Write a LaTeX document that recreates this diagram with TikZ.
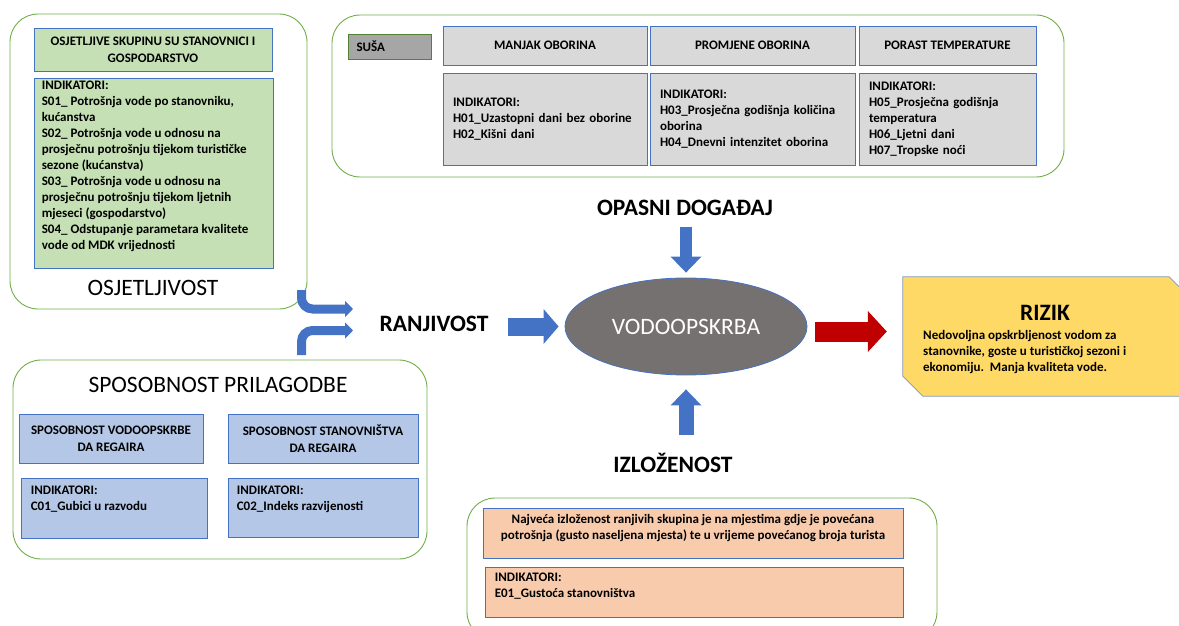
\documentclass[tikz,border=0pt]{standalone}
\usepackage{fontspec}
\setmainfont{Carlito}
\definecolor{grborder}{RGB}{112,173,71}
\definecolor{bxborder}{RGB}{68,114,196}
\definecolor{sushaborder}{RGB}{84,130,53}
\definecolor{arblue}{RGB}{68,114,196}
\definecolor{bxgray}{RGB}{217,217,217}
\definecolor{bxdark}{RGB}{166,166,166}
\definecolor{bxgreen}{RGB}{197,224,180}
\definecolor{bxblue}{RGB}{180,199,231}
\definecolor{bxorange}{RGB}{248,203,173}
\definecolor{bxyellow}{RGB}{255,217,102}
\definecolor{rizborder}{RGB}{132,151,176}
\definecolor{ellgray}{RGB}{118,113,113}
\definecolor{arred}{RGB}{192,0,0}
\usetikzlibrary{arrows.meta,positioning,shapes.geometric}

\tikzset{
  group/.style={draw=grborder, line width=0.9pt, rounded corners=28pt},
  cell/.style={draw=bxborder, line width=0.8pt, inner sep=0pt},
  headtxt/.style={font=\fontsize{13}{17}\selectfont\bfseries, align=center},
  indtxt/.style={font=\fontsize{13}{16}\selectfont\bfseries, align=left, inner sep=0pt},
  bigtitle/.style={font=\fontsize{23.5}{26}\selectfont, inner sep=0pt},
  boldlabel/.style={font=\fontsize{23.5}{26}\selectfont\bfseries, inner sep=0pt},
  blockarrow/.style={arblue, line width=13pt, -{Triangle[width=30pt,length=16pt]}},
  bentarrow/.style={arblue, line width=9pt, rounded corners=11pt, -{Triangle[width=16pt,length=8pt]}}
}

\begin{document}
\begin{tikzpicture}[x=1pt,y=-1pt]
  \useasboundingbox (0,0) rectangle (1179,626);

  %% Osjetljivost
  \node[group, minimum width=297pt, minimum height=295pt] (osjet) at (158.5,161.5) {};
  \node[cell, fill=bxgreen, minimum width=238pt, minimum height=43pt, headtxt] (osjhead) at (153,49.5)
    {OSJETLJIVE SKUPINU SU STANOVNICI I\\GOSPODARSTVO};
  \node[cell, fill=bxgreen, minimum width=239pt, minimum height=190pt] (osjind) at (153.5,173) {};
  \node[indtxt, anchor=north west] (osjtxt) at ([shift={(8pt,-3pt)}]osjind.north west)
    {INDIKATORI:\\S01\_ Potrošnja vode po stanovniku,\\kućanstva\\S02\_ Potrošnja vode u odnosu na\\prosječnu potrošnju tijekom turističke\\sezone (kućanstva)\\S03\_ Potrošnja vode u odnosu na\\prosječnu potrošnju tijekom ljetnih\\mjeseci (gospodarstvo)\\S04\_ Odstupanje parametara kvalitete\\vode od MDK vrijednosti};
  \node[bigtitle] (osjtitle) at (153,288) {OSJETLJIVOST};

  %% Opasni dogadjaj
  \node[group, minimum width=732pt, minimum height=162pt] (hazard) at (698,96) {};
  \node[cell, draw=sushaborder, fill=bxdark, font=\fontsize{13}{15}\selectfont\bfseries, align=left, minimum height=25pt, text width=66pt, inner xsep=8.5pt] (susa) at (389.5,46.5) {SUŠA};
  \node[cell, fill=bxgray, minimum width=204pt, minimum height=39pt, headtxt] (manjhead) at (545,45.5) {MANJAK OBORINA};
  \node[cell, fill=bxgray, minimum width=205pt, minimum height=39pt, headtxt] (promhead) at (752.5,45.5) {PROMJENE OBORINA};
  \node[cell, fill=bxgray, minimum width=177pt, minimum height=39pt, headtxt] (porhead) at (947.5,45.5) {PORAST TEMPERATURE};
  \node[cell, indtxt, fill=bxgray, minimum height=92pt, text width=184pt, inner xsep=10pt] (manjind) at (545,119)
    {INDIKATORI:\\H01\_Uzastopni dani bez oborine\\H02\_Kišni dani};
  \node[cell, indtxt, fill=bxgray, minimum height=92pt, text width=185pt, inner xsep=10pt] (promind) at (752.5,119)
    {INDIKATORI:\\H03\_Prosječna godišnja količina\\oborina\\H04\_Dnevni intenzitet oborina};
  \node[cell, indtxt, fill=bxgray, minimum height=92pt, text width=157pt, inner xsep=10pt] (porind) at (947.5,119)
    {INDIKATORI:\\H05\_Prosječna godišnja\\temperatura\\H06\_Ljetni dani\\H07\_Tropske noći};
  \node[boldlabel] (opasni) at (685,208) {OPASNI DOGAĐAJ};

  %% Vodoopskrba
  \node[ellipse, draw=bxborder, line width=0.8pt, fill=ellgray, minimum width=242pt, minimum height=97pt, text=white, font=\fontsize{23.5}{26}\selectfont] (vodo) at (686,326.5) {VODOOPSKRBA};
  \node[boldlabel] (ranj) at (434,324) {RANJIVOST};
  \node[boldlabel] (izl) at (673,463) {IZLOŽENOST};

  %% Sposobnost prilagodbe
  \node[group, minimum width=414pt, minimum height=199pt] (capac) at (220,459.5) {};
  \node[bigtitle] (captitle) at (218,385) {SPOSOBNOST PRILAGODBE};
  \node[cell, fill=bxblue, minimum width=184pt, minimum height=49pt, headtxt] (caplhead) at (111,439)
    {SPOSOBNOST VODOOPSKRBE\\DA REGAIRA};
  \node[cell, fill=bxblue, minimum width=190pt, minimum height=49pt, headtxt] (caprhead) at (323,439)
    {SPOSOBNOST STANOVNIŠTVA\\DA REGAIRA};
  \node[cell, fill=bxblue, minimum width=186pt, minimum height=60pt] (caplind) at (114,508) {};
  \node[cell, fill=bxblue, minimum width=190pt, minimum height=59pt] (caprind) at (323,507.5) {};
  \node[indtxt, anchor=north west] (capltxt) at ([shift={(10pt,-8pt)}]caplind.north west)
    {INDIKATORI:\\C01\_Gubici u razvodu};
  \node[indtxt, anchor=north west] (caprtxt) at ([shift={(9pt,-8pt)}]caprind.north west)
    {INDIKATORI:\\C02\_Indeks razvijenosti};

  %% Izlozenost
  \node[group, minimum width=470pt, minimum height=142pt] (expos) at (702,569) {};
  \node[cell, fill=bxorange, minimum width=420pt, minimum height=50pt] (exphead) at (693,533) {};
  \node[indtxt, align=center, anchor=north] (exptxt) at ([yshift=-7pt]exphead.north)
    {Najveća izloženost ranjivih skupina je na mjestima gdje je povećana\\potrošnja (gusto naseljena mjesta) te u vrijeme povećanog broja turista};
  \node[cell, fill=bxorange, minimum width=418pt, minimum height=50pt] (expind) at (694,592) {};
  \node[indtxt, anchor=north west] (expitxt) at ([shift={(10pt,-6pt)}]expind.north west)
    {INDIKATORI:\\E01\_Gustoća stanovništva};

  %% Rizik
  \node[minimum width=286pt, minimum height=119pt, inner sep=0pt] (rizik) at (1046,336.5) {};
  \draw[draw=rizborder, line width=0.8pt, fill=bxyellow] (rizik.north west) -- ([xshift=-20pt]rizik.north east)
    -- ([yshift=-20pt]rizik.north east) -- (rizik.south east) -- ([xshift=20pt]rizik.south west)
    -- ([yshift=20pt]rizik.south west) -- cycle;
  \node[font=\fontsize{23.5}{26}\selectfont\bfseries, inner sep=0pt] (riztitle) at (1045,313) {RIZIK};
  \node[indtxt, anchor=north west] (riztxt) at (923,330)
    {Nedovoljna opskrbljenost vodom za\\stanovnike, goste u turističkoj sezoni i\\ekonomiju.\ \ Manja kvaliteta vode.};

  %% Arrows
  \coordinate (hzdbase) at (686,227);
  \coordinate (expbase) at (686,435);
  \coordinate (osjout) at (301.5,290);
  \coordinate (capout) at (301.5,355);
  \coordinate (ranjin1) at (353,309);
  \coordinate (ranjin2) at (353,330.5);
  \draw[blockarrow, line width=12pt] (hzdbase) -- ([yshift=5pt]vodo.north);
  \draw[blockarrow, line width=15pt] (expbase) -- ([yshift=-14pt]vodo.south);
  \draw[blockarrow, line width=18pt, -{Triangle[width=34pt,length=15pt]}, shorten >=6pt] ([xshift=19pt]ranj.east |- vodo.west) -- (vodo.west);
  \draw[blockarrow, arred, line width=20pt, -{Triangle[width=40pt,length=19pt]}, shorten <=8pt, shorten >=16pt] ([yshift=-5pt]vodo.east) -- ([yshift=-5pt]vodo.east -| rizik.west);
  \draw[bentarrow] (osjout) |- (ranjin1);
  \draw[bentarrow] (capout) |- (ranjin2);
\end{tikzpicture}
\end{document}
